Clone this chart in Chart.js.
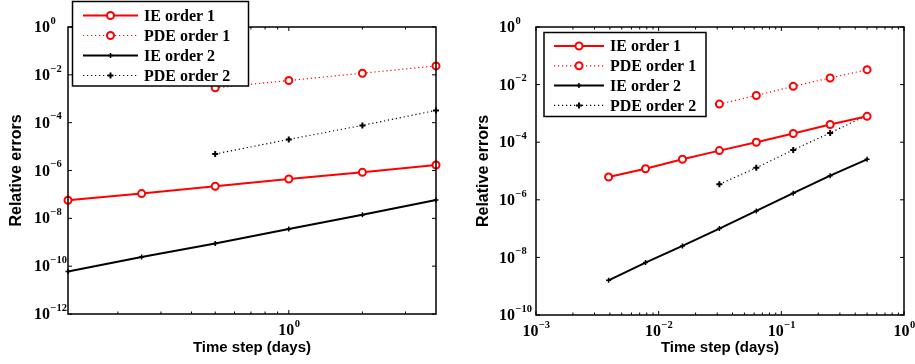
<!DOCTYPE html>
<html>
<head>
<meta charset="utf-8">
<script src="https://cdn.jsdelivr.net/npm/chart.js@4"></script>
<style>
  html, body { margin: 0; padding: 0; background: #fff; }
  #wrap { position: relative; width: 915px; height: 364px; }
  .panel { position: absolute; top: 0; }
</style>
</head>
<body>
<div id="wrap">
  <div class="panel" style="left:0"><canvas id="leftChart" width="457" height="364"></canvas></div>
  <div class="panel" style="left:457px"><canvas id="rightChart" width="458" height="364"></canvas></div>
</div>
<script>
// ---- data ----
const legendLabels = ['IE order 1', 'PDE order 1', 'IE order 2', 'PDE order 2'];

// left panel
const leftSteps = [0.125, 0.25, 0.5, 1, 2, 4];
const leftPdeSteps = [0.5, 1, 2, 4];
const leftIeOrder1 = [5.7e-8, 1.08e-7, 2.2e-7, 4.4e-7, 8.4e-7, 1.7e-6];
const leftPdeOrder1 = [2.85e-3, 5.8e-3, 1.17e-2, 2.36e-2];
const leftIeOrder2 = [6.0e-11, 2.4e-10, 8.9e-10, 3.6e-9, 1.4e-8, 5.9e-8];
const leftPdeOrder2 = [4.9e-6, 2.0e-5, 7.7e-5, 3.25e-4];
const leftYTicks = [1e-12, 1e-10, 1e-8, 1e-6, 1e-4, 1e-2, 1e0];
const leftXTicks = [1];
const leftXMinor = [0.2, 0.3, 0.4, 0.5, 0.6, 0.7, 0.8, 0.9, 2, 3];

// right panel
const rightSteps = [1 / 256, 1 / 128, 1 / 64, 1 / 32, 1 / 16, 1 / 8, 1 / 4, 1 / 2];
const rightPdeSteps = [1 / 32, 1 / 16, 1 / 8, 1 / 4, 1 / 2];
const rightIeOrder1 = [6.2e-6, 1.2e-5, 2.55e-5, 5.1e-5, 1.0e-4, 2.0e-4, 4.1e-4, 7.9e-4];
const rightPdeOrder1 = [2.1e-3, 4.2e-3, 8.7e-3, 1.7e-2, 3.3e-2];
const rightIeOrder2 = [1.6e-9, 6.6e-9, 2.5e-8, 1.0e-7, 4.1e-7, 1.7e-6, 6.9e-6, 2.55e-5];
const rightPdeOrder2 = [3.45e-6, 1.3e-5, 5.4e-5, 2.1e-4, 8.6e-4];
const rightYTicks = [1e-10, 1e-8, 1e-6, 1e-4, 1e-2, 1e0];
const rightXTicks = [1e-3, 1e-2, 1e-1, 1e0];
const rightXMinor = [];
[1e-3, 1e-2, 1e-1].forEach(d => { for (let k = 2; k <= 9; k++) rightXMinor.push(k * d); });

const SERIF = '"Liberation Serif", "Times New Roman", serif';
const SANS = '"Liberation Sans", Arial, sans-serif';

function toPoints(xs, ys) {
    return xs.map((x, i) => ({ x: x, y: ys[i] }));
}

function exponentText(v) {
    const e = Math.round(Math.log10(v));
    return e < 0 ? '\u2212' + (-e) : String(e);
}

function drawMarker(ctx, style, x, y, r, lw, color, fill) {
    ctx.save();
    ctx.lineWidth = lw;
    ctx.strokeStyle = color;
    ctx.setLineDash([]);
    ctx.beginPath();
    if (style === 'circle') {
        ctx.arc(x, y, r, 0, Math.PI * 2);
        ctx.fillStyle = fill;
        ctx.fill();
    } else {
        ctx.moveTo(x - r, y); ctx.lineTo(x + r, y);
        ctx.moveTo(x, y - r); ctx.lineTo(x, y + r);
    }
    ctx.stroke();
    ctx.restore();
}

// MATLAB-like box axes: inward ticks, 10^n labels, boxed legend
const matlabAxes = {
    id: 'matlabAxes',
    afterDatasetsDraw(chart, args, opts) {
        const { ctx, chartArea: a, scales: { x, y } } = chart;
        ctx.save();
        ctx.strokeStyle = '#000';
        ctx.lineWidth = 1;
        const seg = (x0, y0, x1, y1) => { ctx.beginPath(); ctx.moveTo(x0, y0); ctx.lineTo(x1, y1); ctx.stroke(); };

        opts.yTicks.forEach(v => {
            const py = y.getPixelForValue(v);
            seg(a.left, py, a.left + 4, py);
            seg(a.right, py, a.right - 4, py);
        });
        opts.xTicks.forEach(v => {
            const px = x.getPixelForValue(v);
            seg(px, a.bottom, px, a.bottom - 4);
            seg(px, a.top, px, a.top + 4);
        });
        opts.xMinor.forEach(v => {
            const px = x.getPixelForValue(v);
            seg(px, a.bottom, px, a.bottom - 2.5);
            seg(px, a.top, px, a.top + 2.5);
        });

        ctx.lineWidth = 1.5;
        ctx.strokeRect(a.left, a.top, a.right - a.left, a.bottom - a.top);

        // tick labels
        ctx.fillStyle = '#000';
        ctx.textBaseline = 'middle';
        const baseFont = 'bold 16px ' + SERIF;
        const expFont = 'bold 10.5px ' + SERIF;
        opts.yTicks.forEach(v => {
            const py = y.getPixelForValue(v);
            const bx = a.left - opts.yLabelGap;
            ctx.font = baseFont;
            ctx.textAlign = 'right';
            ctx.fillText('10', bx, py + 1);
            ctx.font = expFont;
            ctx.textAlign = 'left';
            ctx.fillText(exponentText(v), bx + 0.5, py - 6);
        });
        opts.xTicks.forEach(v => {
            const px = x.getPixelForValue(v);
            ctx.font = baseFont;
            const wb = ctx.measureText('10').width;
            ctx.font = expFont;
            const we = ctx.measureText(exponentText(v)).width;
            const x0 = px - (wb + we) / 2;
            ctx.font = baseFont;
            ctx.textAlign = 'left';
            ctx.fillText('10', x0, a.bottom + 17);
            ctx.font = expFont;
            ctx.fillText(exponentText(v), x0 + wb + 0.5, a.bottom + 10);
        });
        ctx.restore();
    },
    afterDraw(chart, args, opts) {
        const { ctx } = chart;
        const lg = opts.legend;
        ctx.save();
        ctx.fillStyle = '#fff';
        ctx.fillRect(lg.x, lg.y, lg.w, lg.h);
        ctx.strokeStyle = '#000';
        ctx.lineWidth = 1.5;
        ctx.strokeRect(lg.x, lg.y, lg.w, lg.h);
        chart.data.datasets.forEach((ds, i) => {
            const ry = lg.y + lg.first + i * lg.step;
            ctx.strokeStyle = ds.borderColor;
            ctx.lineWidth = ds.borderWidth;
            ctx.setLineDash(ds.borderDash || []);
            ctx.beginPath();
            ctx.moveTo(lg.lineX0, ry);
            ctx.lineTo(lg.lineX1, ry);
            ctx.stroke();
            drawMarker(ctx, ds.pointStyle, (lg.lineX0 + lg.lineX1) / 2, ry,
                ds.pointRadius, ds.pointBorderWidth, ds.borderColor, '#fff');
            ctx.setLineDash([]);
            ctx.fillStyle = '#000';
            ctx.font = 'bold 16px ' + SERIF;
            ctx.textAlign = 'left';
            ctx.textBaseline = 'middle';
            ctx.fillText(ds.label, lg.textX, ry + 1);
        });
        ctx.restore();
    }
};

function makeDatasets(steps, pdeSteps, ie1, pde1, ie2, pde2) {
    const common = { fill: false, tension: 0, clip: false };
    return [
        Object.assign({ label: legendLabels[0], data: toPoints(steps, ie1),
            borderColor: '#ff0000', borderWidth: 2, pointStyle: 'circle', pointRadius: 3.5,
            pointBorderWidth: 2, pointBackgroundColor: '#fff', pointBorderColor: '#ff0000' }, common),
        Object.assign({ label: legendLabels[1], data: toPoints(pdeSteps, pde1),
            borderColor: '#ff0000', borderWidth: 1.2, borderDash: [1.2, 2.8], pointStyle: 'circle',
            pointRadius: 3.5, pointBorderWidth: 2, pointBackgroundColor: '#fff', pointBorderColor: '#ff0000' }, common),
        Object.assign({ label: legendLabels[2], data: toPoints(steps, ie2),
            borderColor: '#000', borderWidth: 2, pointStyle: 'cross', pointRadius: 2.5,
            pointBorderWidth: 1.5, pointBorderColor: '#000' }, common),
        Object.assign({ label: legendLabels[3], data: toPoints(pdeSteps, pde2),
            borderColor: '#000', borderWidth: 1.2, borderDash: [1.2, 2.8], pointStyle: 'cross',
            pointRadius: 3, pointBorderWidth: 2, pointBorderColor: '#000' }, common)
    ];
}

function makeChart(id, cfg) {
    const canvas = document.getElementById(id);
    const W = canvas.width, H = canvas.height;
    return new Chart(canvas.getContext('2d'), {
        type: 'line',
        data: { datasets: cfg.datasets },
        options: {
            responsive: false,
            animation: false,
            devicePixelRatio: 1,
            layout: { padding: { left: 0, top: cfg.area.top, right: W - cfg.area.right, bottom: 0 } },
            plugins: {
                legend: { display: false },
                tooltip: { enabled: false },
                matlabAxes: {
                    yTicks: cfg.yTicks, xTicks: cfg.xTicks, xMinor: cfg.xMinor,
                    yLabelGap: cfg.yLabelGap, legend: cfg.legend
                }
            },
            scales: {
                x: {
                    type: 'logarithmic', min: cfg.xRange[0], max: cfg.xRange[1],
                    grid: { display: false }, border: { display: false },
                    ticks: { display: false },
                    title: { display: true, text: 'Time step (days)', color: '#000',
                        font: { family: SANS, size: 15, weight: 'bold' }, padding: { top: 0, bottom: 7 } },
                    afterFit: s => { s.height = H - cfg.area.bottom; }
                },
                y: {
                    type: 'logarithmic', min: cfg.yRange[0], max: cfg.yRange[1],
                    grid: { display: false }, border: { display: false },
                    ticks: { display: false },
                    title: { display: true, text: 'Relative errors', color: '#000',
                        font: { family: SANS, size: 16, weight: 'bold' }, padding: { top: cfg.yTitlePad, bottom: 0 } },
                    afterFit: s => { s.width = cfg.area.left; }
                }
            }
        },
        plugins: [matlabAxes]
    });
}

makeChart('leftChart', {
    datasets: makeDatasets(leftSteps, leftPdeSteps, leftIeOrder1, leftPdeOrder1, leftIeOrder2, leftPdeOrder2),
    area: { left: 68, right: 436, top: 27, bottom: 314 },
    xRange: [0.125, 4], yRange: [1e-12, 1],
    yTicks: leftYTicks, xTicks: leftXTicks, xMinor: leftXMinor,
    yLabelGap: 18, yTitlePad: 7,
    legend: { x: 72.5, y: 1.5, w: 176, h: 84.5, first: 14, step: 20, lineX0: 83, lineX1: 138, textX: 144 }
});

makeChart('rightChart', {
    datasets: makeDatasets(rightSteps, rightPdeSteps, rightIeOrder1, rightPdeOrder1, rightIeOrder2, rightPdeOrder2),
    area: { left: 79, right: 447, top: 27, bottom: 315 },
    xRange: [1e-3, 1], yRange: [1e-10, 1],
    yTicks: rightYTicks, xTicks: rightXTicks, xMinor: rightXMinor,
    yLabelGap: 21, yTitlePad: 17,
    legend: { x: 87, y: 32.5, w: 162, h: 84, first: 13.5, step: 19.8, lineX0: 97, lineX1: 147, textX: 153 }
});
</script>
</body>
</html>
